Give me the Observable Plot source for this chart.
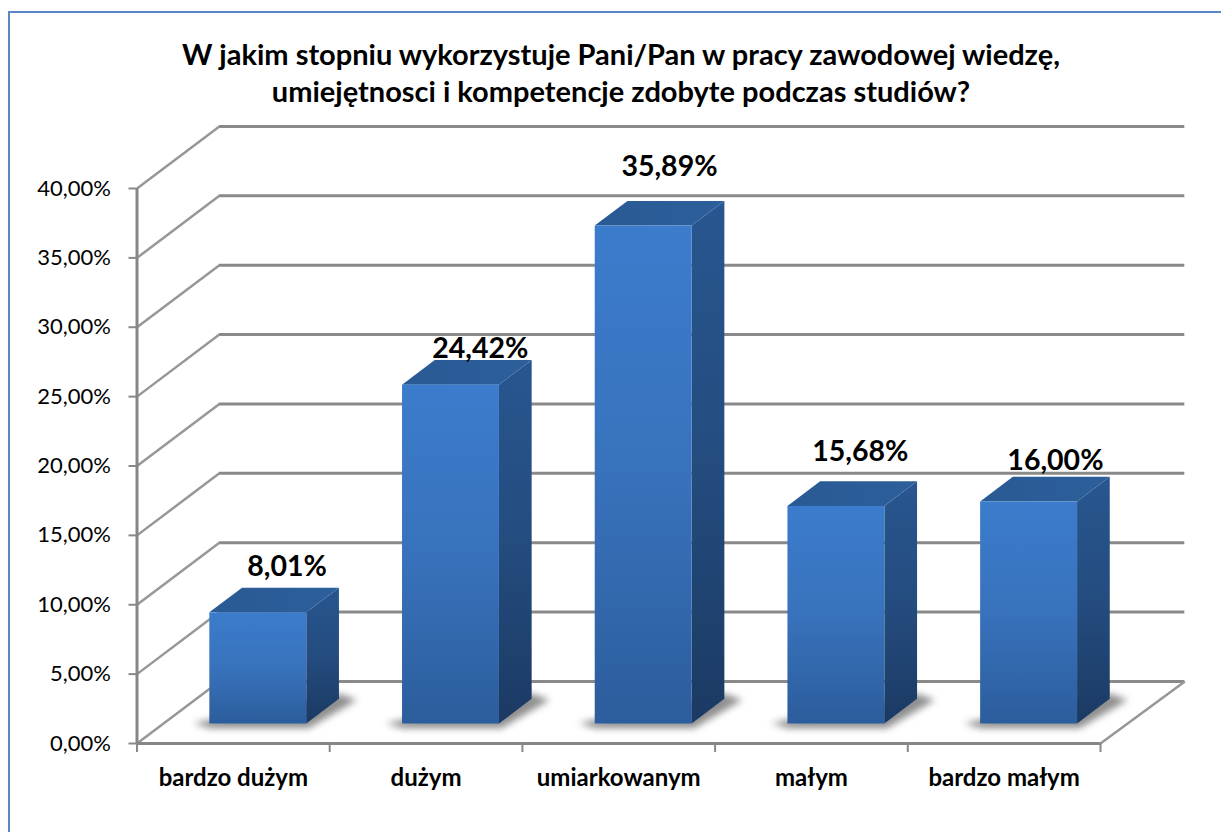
<!DOCTYPE html>
<html lang="pl">
<head>
<meta charset="utf-8">
<script src="https://cdn.jsdelivr.net/npm/d3@7"></script>
<script src="https://cdn.jsdelivr.net/npm/@observablehq/plot@0.6"></script>
<style>
  html, body { margin: 0; padding: 0; background: #fff; width: 1221px; height: 832px; overflow: hidden; }
  #frame { position: absolute; left: 8px; top: 11px; width: 1400px; height: 1000px;
           border-left: 2px solid #5b87c5; border-top: 2px solid #5b87c5; }
  #title { position: absolute; left: 0; top: 0; width: 1242px; height: 112px; padding-top: 35px; box-sizing: border-box;
           text-align: center; font: 700 29px/37px Lato, sans-serif; color: #000; }
  #chart { position: absolute; left: 0; top: 112px; }
  .shadow { filter: blur(3.5px); }
</style>
</head>
<body>
<div id="frame"></div>
<div id="title">W jakim stopniu wykorzystuje Pani/Pan w pracy zawodowej wiedzę,<br>umiejętnosci i kompetencje zdobyte podczas studiów?</div>
<div id="chart"></div>
<script>
const categories = ["bardzo dużym", "dużym", "umiarkowanym", "małym", "bardzo małym"];
const values = [8.01, 24.42, 35.89, 15.68, 16.0];
const valueTicks = [0, 5, 10, 15, 20, 25, 30, 35, 40];
const categoryEdges = [0, 1, 2, 3, 4, 5];

// Oblique projection, in data units: how far the full floor depth shifts x and y
const depthX = 0.4275, depthY = 4.47;
const barFrontDepth = 0.3145, barDepth = 0.397, barWidth = 0.503;
const backOverhang = 0.01;
const barNudge = -0.005;
// Data label placement relative to the back top edge of each bar, in data units
const labelShiftX = [-0.02, -0.018, -0.036, -0.046, -0.033];
const labelShiftY = [1.52, 0.87, 2.46, 2.16, 1.22];

const fmt = v => v.toFixed(2).replace(".", ",") + "%";
const px = (i, d, u = 0) => i + 0.5 + barNudge + (u - 0.5) * barWidth + d * depthX; // u: 0 left of bar, 1 right
const py = (v, d) => v + d * depthY;
const dF = barFrontDepth, dB = barFrontDepth + barDepth;

const bars = values.map((v, i) => ({i, v}));
const sideData = bars.flatMap(({i, v}) => [
  {i, x: px(i, dF, 1), y1: py(0, dF), y2: py(v, dF)},
  {i, x: px(i, dB, 1), y1: py(0, dB), y2: py(v, dB)}
]);
const topData = bars.flatMap(({i, v}) => [
  {i, y: py(v, dF), x1: px(i, dF, 0), x2: px(i, dF, 1)},
  {i, y: py(v, dB), x1: px(i, dB, 0), x2: px(i, dB, 1)}
]);
const shadowData = bars.flatMap(({i}) => [
  {i, x: px(i, dF, -0.17), y: py(0, dF) + 0.05},
  {i, x: px(i, dF, 0), y: py(0, dF) - 0.3},
  {i, x: px(i, dF, 1.02), y: py(0, dF) - 0.3},
  {i, x: px(i, dB, 1.18), y: py(0, dB) - 0.05},
  {i, x: px(i, dB, 1), y: py(0, dB) + 0.4},
  {i, x: px(i, dF, 0), y: py(0, dF) + 0.3}
]);

const defs = () => {
  const d = d3.create("svg:defs");
  const grad = (id, x2, y2, stops) => {
    const g = d.append("linearGradient").attr("id", id)
      .attr("x1", 0).attr("y1", 0).attr("x2", x2).attr("y2", y2);
    stops.forEach(([o, c]) => g.append("stop").attr("offset", o).attr("stop-color", c));
  };
  grad("barFront", 0, 1, [[0, "#3b7ccc"], [0.5, "#3872bc"], [1, "#2c5d9c"]]);
  grad("barSide", 0, 1, [[0, "#285690"], [0.5, "#244c7f"], [1, "#1b3a63"]]);
  grad("barTop", 1, 0, [[0, "#2a5a94"], [1, "#2c5f9b"]]);
  return d.node();
};

const plot = Plot.plot({
  width: 1221,
  height: 720,
  marginLeft: 136.5,
  marginRight: 121,
  marginTop: 76,
  marginBottom: 89,
  style: {fontFamily: "Lato, sans-serif", background: "transparent", color: "#000"},
  x: {domain: [0, 5], range: [136.5, 1100], axis: null},
  y: {domain: [0, 40], range: [631, 76], axis: null},
  marks: [
    defs,
    // back wall grid
    Plot.ruleY(valueTicks, {y: d => d + depthY, x1: depthX, x2: 5 + depthX + backOverhang, stroke: "#8a8a8a", strokeWidth: 3}),
    // side wall grid
    Plot.link(valueTicks, {x1: 0, y1: d => d, x2: depthX, y2: d => d + depthY, stroke: "#979797", strokeWidth: 2.5}),
    // right floor edge
    Plot.link([0], {x1: 5, y1: 0, x2: 5 + depthX + backOverhang, y2: depthY, stroke: "#979797", strokeWidth: 2.5}),
    // shadows
    Plot.line(shadowData, {x: "x", y: "y", z: "i", fill: "#444", fillOpacity: 0.6, stroke: "none", className: "shadow"}),
    // bars
    Plot.areaY(sideData, {x: "x", y1: "y1", y2: "y2", z: "i", fill: "url(#barSide)"}),
    Plot.areaX(topData, {y: "y", x1: "x1", x2: "x2", z: "i", fill: "url(#barTop)"}),
    Plot.rect(bars, {
      x1: d => px(d.i, dF, 0), x2: d => px(d.i, dF, 1),
      y1: () => py(0, dF), y2: d => py(d.v, dF),
      fill: "url(#barFront)"
    }),
    // axis lines and ticks
    Plot.ruleX([0], {y1: 0, y2: 40, stroke: "#868686", strokeWidth: 3}),
    Plot.ruleY([0], {x1: 0, x2: 5, stroke: "#868686", strokeWidth: 3}),
    Plot.axisY({
      ticks: valueTicks, tickFormat: fmt, tickSize: 8, tickPadding: 18,
      fontSize: 22, stroke: "#888", strokeWidth: 2, fill: "#000"
    }),
    Plot.axisX({
      ticks: categoryEdges, tickFormat: () => "", tickSize: 9, stroke: "#888", strokeWidth: 2
    }),
    Plot.axisX({
      ticks: categories.map((_, i) => i + 0.5), tickFormat: d => categories[d - 0.5],
      tickSize: 0, tickPadding: 25, fontSize: 24, fontWeight: 700, fill: "#000"
    }),
    // data labels
    Plot.text(bars, {
      x: d => px(d.i, dB, 0.5) + labelShiftX[d.i],
      y: d => py(d.v, dB) + labelShiftY[d.i],
      text: d => fmt(d.v),
      fontSize: 28.5, fontWeight: 700, fill: "#000"
    })
  ]
});
document.getElementById("chart").appendChild(plot);
</script>
</body>
</html>
